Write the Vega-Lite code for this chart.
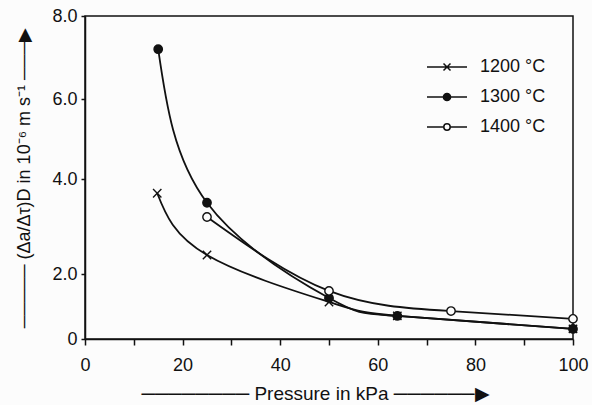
{
  "$schema": "https://vega.github.io/schema/vega-lite/v6.json",
  "width": 488,
  "height": 323,
  "autosize": {"type": "none"},
  "padding": {"left": 85, "top": 16, "right": 19, "bottom": 66},
  "background": "#fcfcfc",
  "config": {
    "font": "Liberation Sans",
    "view": {"stroke": "#111111", "strokeWidth": 1.5},
    "axis": {
      "grid": false,
      "domainColor": "#111111",
      "domainWidth": 1.5,
      "tickColor": "#111111",
      "tickWidth": 1.5,
      "labelColor": "#111111",
      "labelFontSize": 18,
      "labelFont": "Liberation Sans",
      "titleColor": "#111111",
      "titleFont": "Liberation Sans",
      "titleFontWeight": "normal",
      "labelFlush": false,
      "labelOverlap": false
    }
  },
  "data": {
    "values": [
      {"series": "1200 °C", "pressure": 14.8, "rate": 3.7},
      {"series": "1200 °C", "pressure": 25, "rate": 2.4},
      {"series": "1200 °C", "pressure": 50, "rate": 1.14},
      {"series": "1200 °C", "pressure": 64, "rate": 0.71},
      {"series": "1200 °C", "pressure": 100, "rate": 0.31},
      {"series": "1300 °C", "pressure": 15, "rate": 7.2},
      {"series": "1300 °C", "pressure": 25, "rate": 3.5},
      {"series": "1300 °C", "pressure": 50, "rate": 1.26},
      {"series": "1300 °C", "pressure": 64, "rate": 0.71},
      {"series": "1300 °C", "pressure": 100, "rate": 0.31},
      {"series": "1400 °C", "pressure": 25, "rate": 3.2},
      {"series": "1400 °C", "pressure": 50, "rate": 1.48},
      {"series": "1400 °C", "pressure": 75, "rate": 0.86},
      {"series": "1400 °C", "pressure": 100, "rate": 0.62}
    ]
  },
  "encoding": {
    "x": {
      "field": "pressure",
      "type": "quantitative",
      "scale": {"domain": [0, 100], "nice": false},
      "axis": {
        "values": [0, 10, 20, 30, 40, 50, 60, 70, 80, 90, 100],
        "labelExpr": "datum.value % 20 === 0 ? datum.label : ''",
        "tickSize": 6,
        "labelPadding": 11,
        "titlePadding": 10,
        "titleFontSize": 19,
        "titleX": 230,
        "title": "──────── Pressure in kPa ──────▶"
      }
    },
    "y": {
      "field": "rate",
      "type": "quantitative",
      "scale": {"domain": [0, 2, 4, 6, 8], "range": [323, 258, 163, 83, 0], "nice": false, "zero": false},
      "axis": {
        "values": [0, 2, 4, 6, 8],
        "labelExpr": "datum.value === 0 ? '0' : format(datum.value, '.1f')",
        "tickSize": 4,
        "labelPadding": 4,
        "titlePadding": 18,
        "titleFontSize": 18,
        "title": "───── (Δa/Δτ)D in 10⁻⁶ m s⁻¹ ───▶"
      }
    }
  },
  "layer": [
    {
      "mark": {"type": "line", "interpolate": "natural", "color": "#111111", "strokeWidth": 1.8},
      "encoding": {"detail": {"field": "series"}}
    },
    {
      "mark": {"type": "point", "stroke": "#111111", "strokeWidth": 1.4, "opacity": 1},
      "encoding": {
        "shape": {
          "field": "series",
          "scale": {
            "domain": ["1200 °C", "1300 °C", "1400 °C"],
            "range": ["M-1,-1L1,1M-1,1L1,-1", "circle", "circle"]
          },
          "legend": null
        },
        "fill": {
          "field": "series",
          "scale": {
            "domain": ["1200 °C", "1300 °C", "1400 °C"],
            "range": ["#111111", "#111111", "#fcfcfc"]
          },
          "legend": null
        },
        "size": {"value": 70}
      }
    },
    {
      "transform": [{"filter": "false"}],
      "mark": {"type": "point", "filled": false, "color": "#111111", "strokeWidth": 1.5, "opacity": 1},
      "encoding": {
        "shape": {
          "field": "series",
          "scale": {
            "domain": ["1200 °C", "1300 °C", "1400 °C"],
            "range": [
              "M-2,0L2,0M-0.35,-0.35L0.35,0.35M-0.35,0.35L0.35,-0.35",
              "M-2,0L-0.36,0M0.36,0L2,0M-0.36,0A0.36,0.36,0,1,1,0.36,0A0.36,0.36,0,1,1,-0.36,0ZM-0.22,0A0.22,0.22,0,1,1,0.22,0A0.22,0.22,0,1,1,-0.22,0ZM-0.09,0A0.09,0.09,0,1,1,0.09,0A0.09,0.09,0,1,1,-0.09,0Z",
              "M-2,0L-0.32,0M0.32,0L2,0M-0.32,0A0.32,0.32,0,1,1,0.32,0A0.32,0.32,0,1,1,-0.32,0Z"
            ]
          },
          "legend": {
            "title": null,
            "orient": "none",
            "legendX": 351,
            "legendY": 40,
            "padding": 0,
            "labelFontSize": 18,
            "labelColor": "#111111",
            "labelOffset": 22,
            "rowPadding": 10,
            "symbolSize": 400,
            "symbolOpacity": 1,
            "symbolStrokeColor": "#111111",
            "symbolStrokeWidth": 1.5
          }
        },
        "size": {"value": 400}
      }
    }
  ],
  "resolve": {"scale": {"shape": "independent"}}
}
